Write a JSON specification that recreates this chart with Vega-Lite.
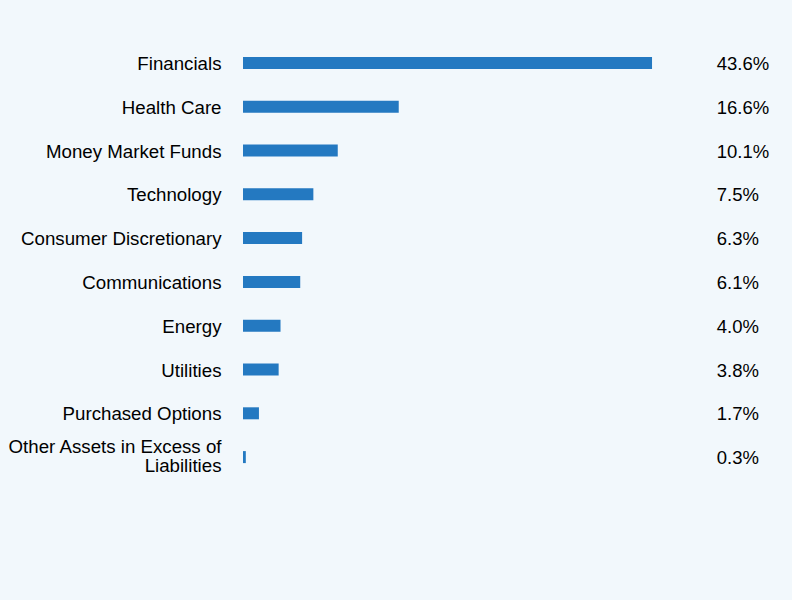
{
  "$schema": "https://vega.github.io/schema/vega-lite/v6.json",
  "width": 540,
  "height": 438,
  "autosize": {"type": "none"},
  "padding": {"left": 243, "top": 41, "right": 9, "bottom": 121},
  "background": "#F2F8FC",
  "config": {
    "view": {"stroke": null},
    "font": "Liberation Sans"
  },
  "data": {
    "values": [
      {"sector": "Financials", "pct": 43.6, "label": "43.6%"},
      {"sector": "Health Care", "pct": 16.6, "label": "16.6%"},
      {"sector": "Money Market Funds", "pct": 10.1, "label": "10.1%"},
      {"sector": "Technology", "pct": 7.5, "label": "7.5%"},
      {"sector": "Consumer Discretionary", "pct": 6.3, "label": "6.3%"},
      {"sector": "Communications", "pct": 6.1, "label": "6.1%"},
      {"sector": "Energy", "pct": 4.0, "label": "4.0%"},
      {"sector": "Utilities", "pct": 3.8, "label": "3.8%"},
      {"sector": "Purchased Options", "pct": 1.7, "label": "1.7%"},
      {"sector": "Other Assets in Excess of Liabilities", "pct": 0.3, "label": "0.3%"}
    ]
  },
  "encoding": {
    "y": {
      "field": "sector",
      "type": "nominal",
      "sort": null,
      "title": null,
      "scale": {"padding": 0},
      "axis": {
        "domain": false,
        "ticks": false,
        "labelPadding": 22,
        "labelFontSize": 18.7,
        "labelColor": "#000000",
        "labelLimit": 300,
        "labelLineHeight": 19,
        "labelOffset": {
          "condition": {"test": "datum.value == 'Other Assets in Excess of Liabilities'", "value": -10},
          "value": 1
        },
        "labelExpr": "datum.label == 'Other Assets in Excess of Liabilities' ? ['Other Assets in Excess of', 'Liabilities'] : datum.label"
      }
    }
  },
  "layer": [
    {
      "mark": {"type": "bar", "height": 12, "color": "#2479C1"},
      "encoding": {
        "x": {
          "field": "pct",
          "type": "quantitative",
          "scale": {"domain": [0, 57.56], "nice": false, "zero": true},
          "axis": null
        }
      }
    },
    {
      "mark": {"type": "text", "align": "left", "baseline": "middle", "fontSize": 18.5, "color": "#000000", "dy": 1},
      "encoding": {
        "x": {"datum": 50.5, "type": "quantitative"},
        "text": {"field": "label", "type": "nominal"}
      }
    }
  ]
}
